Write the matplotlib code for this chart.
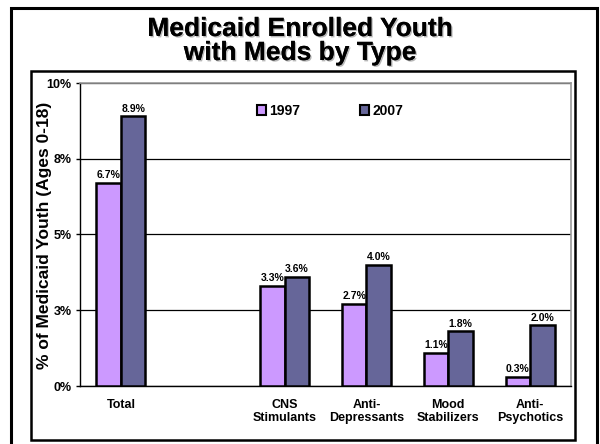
import matplotlib
matplotlib.use("Agg")
import matplotlib.pyplot as plt
import matplotlib.patches as mpatches
import matplotlib.patheffects as pe
import numpy as np

plt.rcParams['font.family'] = ['Liberation Sans', 'DejaVu Sans']

categories = ["Total", "", "CNS\nStimulants", "Anti-\nDepressants", "Mood\nStabilizers", "Anti-\nPsychotics"]
vals_1997 = [6.7, np.nan, 3.3, 2.7, 1.1, 0.3]
vals_2007 = [8.9, np.nan, 3.6, 4.0, 1.8, 2.0]
series_names = ["1997", "2007"]
yticks = [0, 2.5, 5, 7.5, 10]
ytick_labels = ["0%", "3%", "5%", "8%", "10%"]

c1997 = "#CC99FF"
c2007 = "#666699"

W, H = 600, 444
fig = plt.figure(figsize=(6, 4.44), dpi=100)

def frect(x0, y0, x1, y1, **kw):
    # pixel coords (top-left origin) -> figure fraction
    r = mpatches.Rectangle((x0 / W, 1 - y1 / H), (x1 - x0) / W, (y1 - y0) / H,
                           transform=fig.transFigure, fill=False, **kw)
    fig.patches.append(r)

frect(11, 8, 597, 460, edgecolor="black", linewidth=2.2)
frect(31, 71, 575, 440, edgecolor="black", linewidth=1.8)

ax = fig.add_axes([80 / W, 1 - 386 / H, 491 / W, 303 / H])

x = np.arange(len(categories))
bw = 0.3
b1 = ax.bar(x - bw / 2, vals_1997, bw, color=c1997, edgecolor="black", linewidth=1.8, zorder=3)
b2 = ax.bar(x + bw / 2, vals_2007, bw, color=c2007, edgecolor="black", linewidth=1.8, zorder=3)

for bars, vals in ((b1, vals_1997), (b2, vals_2007)):
    for rect, v in zip(bars, vals):
        if np.isnan(v):
            continue
        ax.annotate(f"{v:.1f}%", (rect.get_x() + rect.get_width() / 2, v),
                    xytext=(0, 2), textcoords="offset points", ha="center", va="bottom",
                    fontsize=7.5, fontweight="bold", zorder=4)

ax.set_xlim(-0.5, len(categories) - 0.5)
ax.set_ylim(0, 10)
ax.set_yticks(yticks)
ax.set_yticklabels(ytick_labels, fontsize=9, fontweight="bold")
ax.set_xticks(x)
ax.set_xticklabels(categories, fontsize=9, fontweight="bold", linespacing=1.15)
ax.tick_params(axis="x", length=0, pad=9)
ax.tick_params(axis="y", length=3, width=1, pad=3, direction="out")
ax.yaxis.grid(True, color="black", linewidth=0.9, zorder=0)
ax.set_axisbelow(True)
for s in ("top", "right"):
    ax.spines[s].set_color("#999999")
    ax.spines[s].set_linewidth(1.2)
ax.spines["left"].set_linewidth(1)
ax.spines["bottom"].set_linewidth(1)

fig.text(45 / W, 1 - 235 / H, "% of Medicaid Youth (Ages 0-18)", rotation=90,
         ha="center", va="center", fontsize=12.5, fontweight="bold")

handles = [mpatches.Patch(facecolor=c1997, edgecolor="black", linewidth=1.5),
           mpatches.Patch(facecolor=c2007, edgecolor="black", linewidth=1.5)]
leg = ax.legend(handles, series_names, loc="center left",
                bbox_to_anchor=((257 - 80) / 491, (386 - 111) / 303),
                ncol=2, frameon=False, handlelength=0.65, handleheight=0.65,
                handletextpad=0.25, columnspacing=4.3, borderpad=0, borderaxespad=0,
                prop={"size": 10, "weight": "bold"})

fig.text(0.5, 1 - 41 / H, "Medicaid Enrolled Youth\nwith Meds by Type", ha="center", va="center",
         fontsize=19, fontweight="bold", linespacing=1.0,
         path_effects=[pe.withSimplePatchShadow(offset=(1, -1), shadow_rgbFace="#888888", alpha=0.6), pe.Normal()])

fig.savefig("out.png", dpi=100)
